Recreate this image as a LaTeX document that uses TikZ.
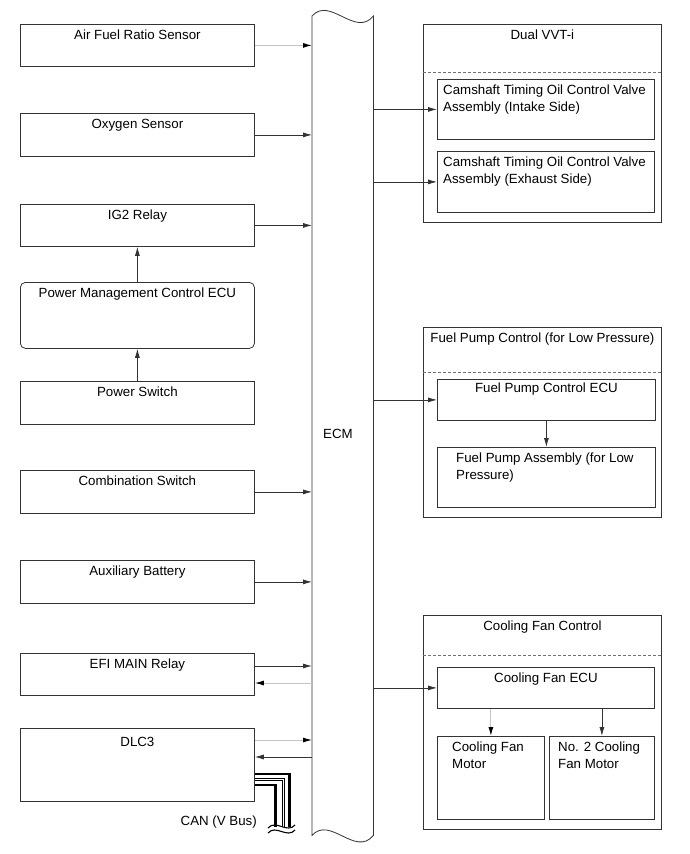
\documentclass[tikz,border=0pt]{standalone}
\usepackage{fontspec}
\setmainfont{Liberation Sans}
\usetikzlibrary{arrows.meta,calc}
\definecolor{ink}{HTML}{333333}
\definecolor{pale}{HTML}{C4C4C4}
\definecolor{sepc}{HTML}{707070}
\tikzset{
  >={Latex[length=9pt,width=5pt]},
  txt/.style={font=\fontsize{13.3pt}{17pt}\selectfont,inner sep=0pt,text=black},
  box/.style={draw=ink,line width=0.8pt,inner sep=0pt,anchor=north west},
  lbox/.style={box,minimum width=234pt},
  lbl/.style={label={[txt,anchor=north,yshift=-6pt]north:#1}},
  llbl/.style n args={2}{label={[txt,align=left,anchor=north west,xshift=#1,yshift=-6pt]north west:#2}},
  arr/.style={->,draw=ink,line width=0.8pt},
  garr/.style={-{Latex[length=9pt,width=5pt,color=black]},draw=pale,line width=1pt},
  sep/.style={draw=sepc,line width=0.6pt,dash pattern=on 3pt off 2pt},
  can/.style={draw=black,line width=#1},
}
\begin{document}
\begin{tikzpicture}[x=1pt,y=-1pt]
\useasboundingbox (0,0) rectangle (689,854);
% left column
\node[lbox,minimum height=42pt,lbl=Air Fuel Ratio Sensor] (afs) at (20,24) {};
\node[lbox,minimum height=43pt,lbl=Oxygen Sensor] (oxs) at (20,113) {};
\node[lbox,minimum height=42pt,lbl=IG2 Relay] (igr) at (20,204) {};
\node[lbox,minimum height=66pt,rounded corners=5pt,lbl=Power Management Control ECU] (pmc) at (20,282) {};
\node[lbox,minimum height=43pt,lbl=Power Switch] (psw) at (20,381) {};
\node[lbox,minimum height=43pt,lbl=Combination Switch] (csw) at (20,470) {};
\node[lbox,minimum height=43pt,lbl=Auxiliary Battery] (aux) at (20,560) {};
\node[lbox,minimum height=42pt,lbl=EFI MAIN Relay] (efi) at (20,653) {};
\node[lbox,minimum height=73pt,label={[txt,anchor=north,yshift=-9pt]north:DLC3}] (dlc) at (20,728) {};
% ECM bar
\node[inner sep=0pt,minimum width=61pt,minimum height=819pt,anchor=north west] (ecm) at (312,16) {};
\draw[draw=ink,line width=0.8pt] (ecm.north west) .. controls +(18,-20) and +(-18,22) .. (ecm.north east)
  -- (ecm.south east) .. controls +(-18,22) and +(18,-20) .. (ecm.south west) -- cycle;
\node[txt] (ecmlbl) at (338,434) {ECM};
% right groups
\node[box,minimum width=238pt,minimum height=198pt,lbl=Dual VVT-i] (vvt) at (423,24) {};
\draw[sep] ([yshift=-48pt]vvt.north west) -- ([yshift=-48pt]vvt.north east);
\node[box,minimum width=217pt,minimum height=60pt,llbl={6pt}{Camshaft Timing Oil Control Valve\\Assembly (Intake Side)}] (cam1) at (437,79) {};
\node[box,minimum width=217pt,minimum height=61pt,llbl={6pt}{Camshaft Timing Oil Control Valve\\Assembly (Exhaust Side)}] (cam2) at (437,151) {};

\node[box,minimum width=238pt,minimum height=190pt,lbl=Fuel Pump Control (for Low Pressure)] (fpc) at (423,327) {};
\draw[sep] ([yshift=-45pt]fpc.north west) -- ([yshift=-45pt]fpc.north east);
\node[box,minimum width=218pt,minimum height=41pt,label={[txt,anchor=north,yshift=-4pt]north:Fuel Pump Control ECU}] (fpecu) at (437,379) {};
\node[box,minimum width=218pt,minimum height=60pt,llbl={19pt}{Fuel Pump Assembly (for Low\\Pressure)}] (fpasm) at (437,447) {};

\node[box,minimum width=238pt,minimum height=214pt,lbl=Cooling Fan Control] (cfc) at (423,615) {};
\draw[sep] ([yshift=-40pt]cfc.north west) -- ([yshift=-40pt]cfc.north east);
\node[box,minimum width=217pt,minimum height=41pt,lbl=Cooling Fan ECU] (cfecu) at (437,667) {};
\node[box,minimum width=107pt,minimum height=83pt,llbl={15pt}{Cooling Fan\\Motor}] (cfm1) at (437,736) {};
\node[box,minimum width=105pt,minimum height=83pt,llbl={9pt}{No. 2 Cooling\\Fan Motor}] (cfm2) at (549,736) {};
% connectors
\draw[garr] (afs) -- (afs -| ecm.west);
\foreach \n in {oxs,igr,csw,aux} \draw[arr] (\n) -- (\n -| ecm.west);
\draw[arr] (pmc) -- (igr);
\draw[arr] (psw) -- (pmc);
\coordinate (efi1) at ([yshift=-13pt]efi.north east);
\coordinate (efi2) at ([yshift=-30pt]efi.north east);
\coordinate (dlc1) at ([yshift=-12pt]dlc.north east);
\coordinate (dlc2) at ([yshift=-29pt]dlc.north east);
\draw[arr] (efi1) -- (efi1 -| ecm.west);
\draw[garr] (efi2 -| ecm.west) -- (efi2);
\draw[garr] (dlc1) -- (dlc1 -| ecm.west);
\draw[arr] (dlc2 -| ecm.west) -- (dlc2);
\foreach \n in {cam1,cam2,fpecu,cfecu} \draw[arr] (\n -| ecm.east) -- (\n);
\draw[arr] (fpecu) -- (fpasm);
\draw[garr] (cfecu.south -| cfm1) -- (cfm1);
\draw[arr] (cfecu.south -| cfm2) -- (cfm2);
% CAN bus
\coordinate (canbot) at (289.5,827);
\foreach \dy/\dx/\w in {46/0/2.4pt,50/5/0.7pt,52.5/7.5/0.7pt,57/14/2.4pt}
  \draw[can=\w] ([yshift=-\dy pt]dlc.north east) -| ([xshift=-\dx pt]canbot);
\draw[line width=1.1pt] (268,828) .. controls (276,819) and (287,834) .. (295,825);
\draw[line width=1.1pt] (268,833) .. controls (276,824) and (287,839) .. (295,830);
\node[txt,anchor=east] (canlbl) at (257,822) {CAN (V Bus)};
\end{tikzpicture}
\end{document}
